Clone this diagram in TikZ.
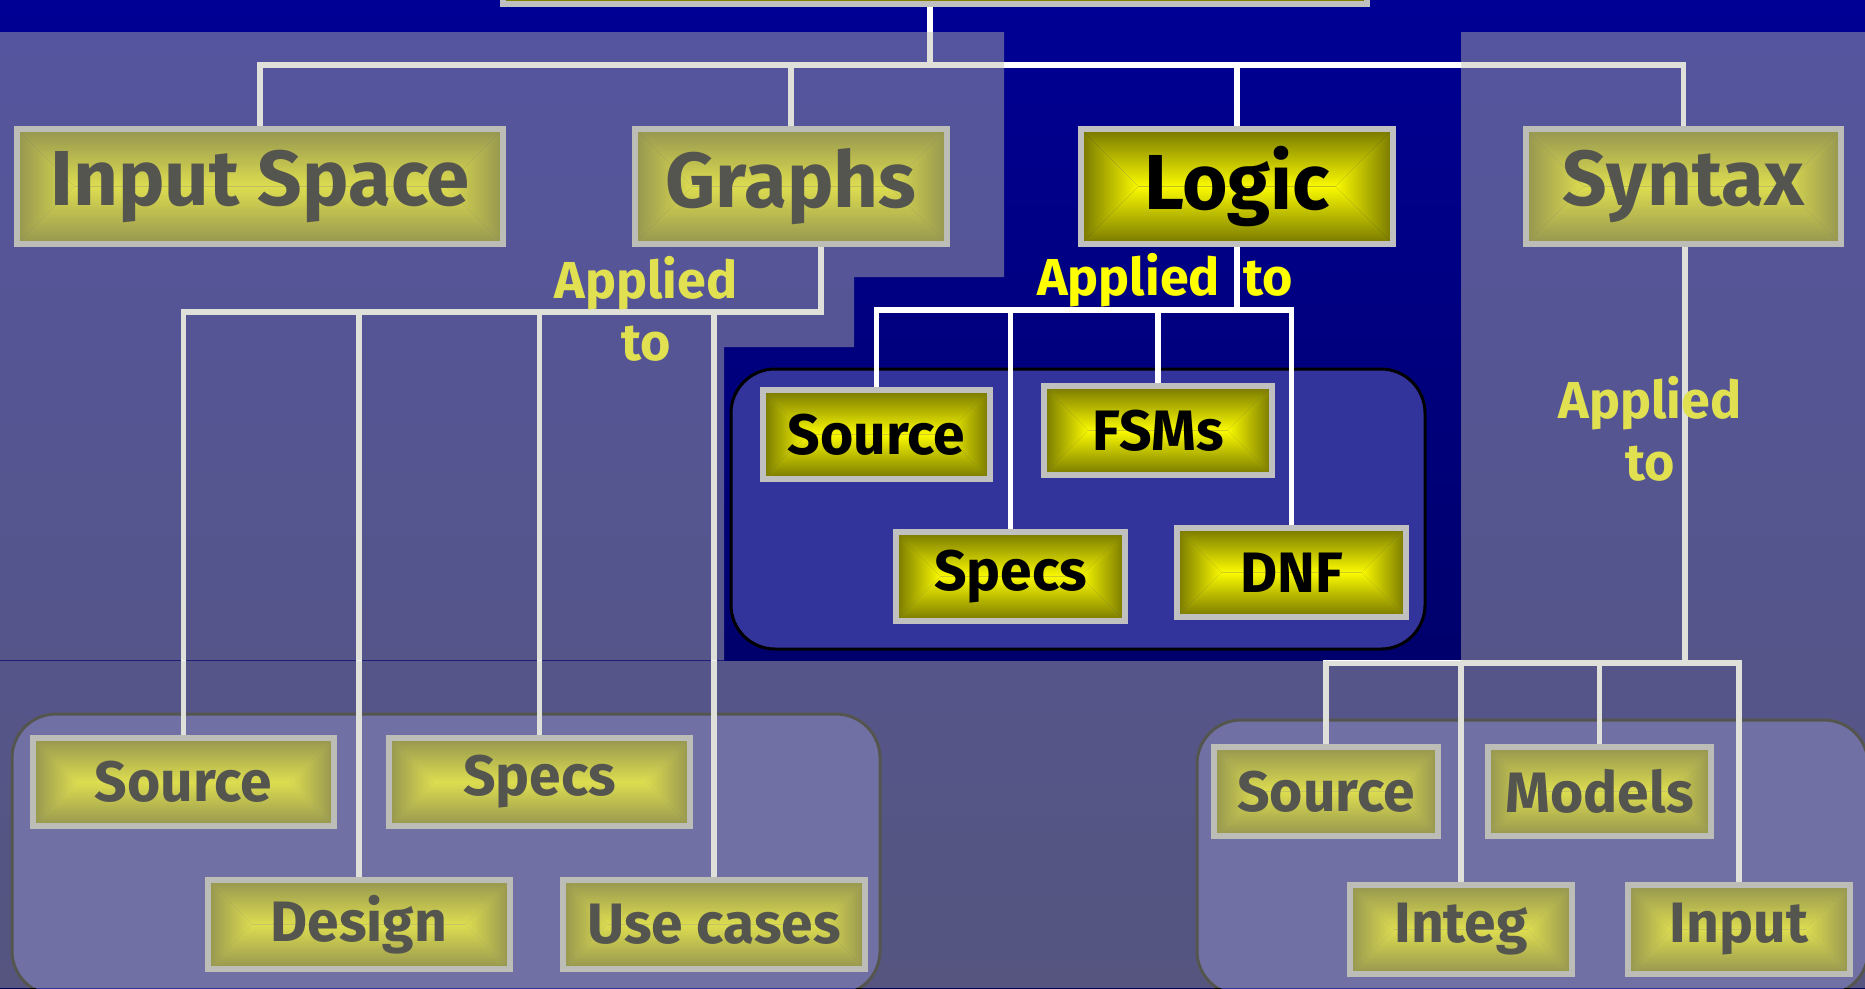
\documentclass[tikz,border=0pt]{standalone}
\usepackage{fontspec}
\setmainfont{Fira Sans}

\definecolor{navytop}{RGB}{0,0,148}
\definecolor{navybot}{RGB}{0,0,88}
\definecolor{veil}{RGB}{187,187,176}
\definecolor{rim}{RGB}{192,192,192}
\definecolor{olivedge}{RGB}{118,118,0}
\definecolor{yellowmid}{RGB}{250,250,0}
\definecolor{panelfill}{RGB}{51,51,156}
\definecolor{tagyellow}{RGB}{255,255,0}

% four shaded facets meeting on the middle line of a box
\newcommand{\facets}[1]{%
  \path (path picture bounding box.west) ++(#1,0) coordinate (fl);
  \path (path picture bounding box.east) ++(-#1,0) coordinate (fr);
  \shade[top color=olivedge, bottom color=yellowmid]
    (path picture bounding box.north west) -- (path picture bounding box.north east) -- (fr) -- (fl) -- cycle;
  \shade[top color=yellowmid, bottom color=olivedge]
    (path picture bounding box.south west) -- (path picture bounding box.south east) -- (fr) -- (fl) -- cycle;
  \shade[left color=olivedge, right color=yellowmid]
    (path picture bounding box.north west) -- (fl) -- (path picture bounding box.south west) -- cycle;
  \shade[left color=yellowmid, right color=olivedge]
    (path picture bounding box.north east) -- (fr) -- (path picture bounding box.south east) -- cycle;
}

\tikzset{every picture/.style={line width=0.75pt}}

\begin{document}
\begin{tikzpicture}[x=1pt,y=1pt,yscale=-1,xscale=1,
  tile/.style={draw=rim, line width=6pt, inner sep=0pt, text=black, path picture={\facets{#1}}},
  head/.style={tile=57.5, minimum width=312pt, minimum height=115pt, font=\fontsize{78}{90}\selectfont\bfseries},
  leaf/.style={tile=44.5, minimum height=89pt, font=\fontsize{57}{66}\selectfont\bfseries},
  link/.style={draw=white, line width=5.5pt},
  group/.style={draw=black, fill=panelfill, line width=3pt, rounded corners=44pt},
  tag/.style={text=tagyellow, inner sep=0pt, align=center, font=\fontsize{52}{62}\selectfont\bfseries}]
\useasboundingbox (0,0) rectangle (1865,988);
\clip (0,0) rectangle (1865,988);

%Background
\shade[top color=navytop, bottom color=navybot] (0,0) rectangle (1865,988);

%Group frames
\draw[group] (731,369) rectangle (1425,649);
\draw[group] (12,714) rectangle (880,995);
\draw[group] (1197,720) rectangle (1868,995);

%Top box (cut by the page edge)
\node[tile=59, minimum width=864pt, minimum height=118pt] (top) at (935,-55) {};

%Criteria
\node[head, minimum width=486pt] (inspace) at (260,186.5) {Input Space};
\node[head] (graphs) at (791,186.5) {Graphs};
\node[head] (logic) at (1237,186.5) {Logic};
\node[head, minimum width=315pt] (syntax) at (1683.5,186.5) {Syntax};

%Graphs leaves
\node[leaf, minimum width=301pt, minimum height=88pt] (gsrc) at (183.5,782) {Source};
\node[leaf, minimum width=301pt, minimum height=88pt] (gspecs) at (539.5,782) {Specs};
\node[leaf, minimum width=302pt, minimum height=89pt] (gdesign) at (359,924.5) {Design};
\node[leaf, minimum width=302pt, minimum height=89pt] (guse) at (714,924.5) {Use cases};

%Logic leaves
\node[leaf, minimum width=227pt] (lsrc) at (876.5,434.5) {Source};
\node[leaf, minimum width=228pt] (lfsm) at (1158,430.5) {FSMs};
\node[leaf, minimum width=229pt] (lspecs) at (1010.5,576.5) {Specs};
\node[leaf, minimum width=229pt] (ldnf) at (1291.5,572.5) {DNF};

%Syntax leaves
\node[leaf, minimum width=224pt] (ssrc) at (1326,791.5) {Source};
\node[leaf, minimum width=223pt] (smodels) at (1599.5,791.5) {Models};
\node[leaf, minimum width=222pt] (sinteg) at (1461,929.5) {Integ};
\node[leaf, minimum width=222pt] (sinput) at (1739,929.5) {Input};

%Connectors
\coordinate (bus) at (930,65);
\draw[link] (top.south -| bus) -- (bus);
\draw[link] (inspace.north) |- (bus) -| (syntax.north);
\draw[link] (graphs.north) -- (graphs.north |- bus);
\draw[link] (logic.north) -- (logic.north |- bus);

\coordinate (gbar) at (821,312);
\draw[link] (gbar |- graphs.south) -- (gbar) -| (gsrc.north);
\foreach \leaf in {gdesign,gspecs,guse}
  \draw[link] (\leaf.north) -- (\leaf.north |- gbar);

\coordinate (lbar) at (1237,310);
\draw[link] (logic.south) -- (lbar);
\draw[link] (lsrc.north) |- (lbar) -| (ldnf.north);
\foreach \leaf in {lspecs,lfsm}
  \draw[link] (\leaf.north) -- (\leaf.north |- lbar);

\coordinate (sbar) at (1685,663);
\draw[link] (syntax.south -| sbar) -- (sbar);
\draw[link] (ssrc.north) |- (sbar) -| (sinput.north);
\foreach \leaf in {sinteg,smodels}
  \draw[link] (\leaf.north) -- (\leaf.north |- sbar);

%Labels
\node[tag, anchor=north] (gtag) at (646,256) {Applied\\to};
\node[tag, anchor=base] (ltag) at (1165,295) {Applied\hspace{0.45em}to};
\node[tag, anchor=north] (stag) at (1650,376) {Applied\\to};

%Veil over everything but the Logic column
\fill[veil, fill opacity=0.455] (0,32) -- (1004,32) -- (1004,277) -- (854,277) -- (854,347) -- (724,347) -- (724,660.3) -- (0,660.3) -- cycle;
\fill[veil, fill opacity=0.455] (1461,32) rectangle (1865,661);
\fill[veil, fill opacity=0.455] (0,661) rectangle (1865,988);

\end{tikzpicture}
\end{document}
